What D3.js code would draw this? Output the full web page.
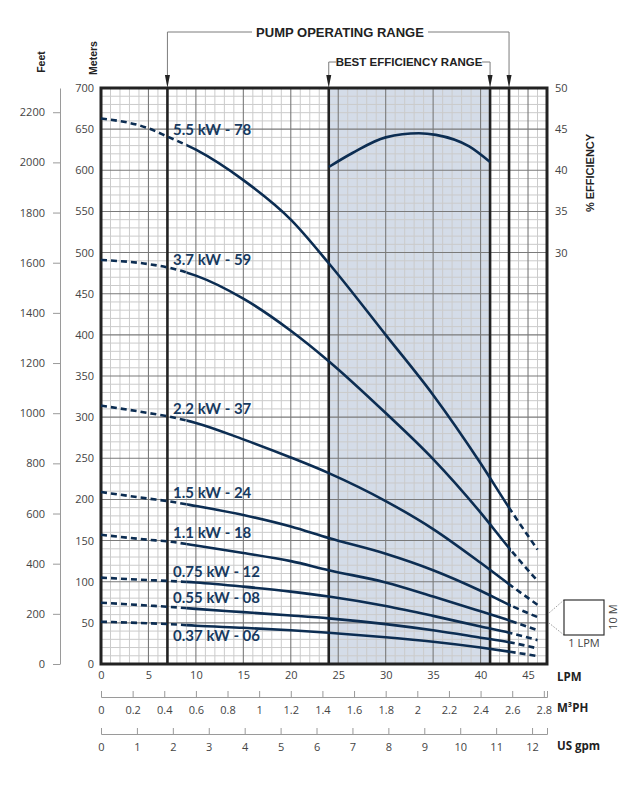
<!DOCTYPE html>
<html lang="en">
<head>
<meta charset="UTF-8">
<title>Pump performance curves</title>
<style>
    body{
        margin:0;
        background:#fff;
    }
    svg text{font-family:"Open Sans",sans-serif;}
</style>
<script src="https://cdn.jsdelivr.net/npm/d3@7/dist/d3.min.js"></script>
</head>
<body>
<div id="container"></div>
<script>
    // flow points (LPM) where head was read for every curve
    var lpm = [0, 5, 7, 10, 15, 20, 24, 30, 35, 40, 43, 46];
    var kw55 = [663, 651, 641, 625, 588, 540, 487, 400, 327, 244, 190, 139];
    var kw37 = [491, 486, 482, 472, 444, 405, 368, 305, 249, 184, 141, 101];
    var kw22 = [314, 305, 301, 293, 273, 251, 232, 198, 164, 123, 97, 72];
    var kw15 = [209, 201, 198, 192, 181, 167, 153, 134, 114, 89, 72, 57];
    var kw11 = [157, 151, 149, 144, 135, 125, 114, 99, 82, 64, 53, 41];
    var kw075 = [105, 102, 101, 99, 94, 88, 82, 70.5, 58.5, 45.5, 38, 29];
    var kw055 = [74.5, 71, 69.6, 67, 63, 59, 55.5, 48.5, 41, 32, 26.5, 19];
    var kw037 = [51.4, 49.5, 48.6, 46.5, 44, 41, 38, 32.5, 27, 20, 15, 9.7];
    var curveNames = ['5.5 kW - 78', '3.7 kW - 59', '2.2 kW - 37', '1.5 kW - 24',
        '1.1 kW - 18', '0.75 kW - 12', '0.55 kW - 08', '0.37 kW - 06'];

    var effLpm = [24, 26.5, 30, 33.5, 35.3, 38.8, 41];
    var effValues = [40.4, 42.1, 44.0, 44.5, 44.3, 42.9, 41.0];

    var operatingRange = [7, 43];
    var bestRange = [24, 41];

    var meterTicks = [0, 50, 100, 150, 200, 250, 300, 350, 400, 450, 500, 550, 600, 650, 700];
    var feetTicks = [0, 200, 400, 600, 800, 1000, 1200, 1400, 1600, 1800, 2000, 2200];
    var effTicks = [30, 35, 40, 45, 50];
    var lpmTicks = [0, 5, 10, 15, 20, 25, 30, 35, 40, 45];
    var m3phTicks = [0, 0.2, 0.4, 0.6, 0.8, 1, 1.2, 1.4, 1.6, 1.8, 2, 2.2, 2.4, 2.6, 2.8];
    var gpmTicks = [0, 1, 2, 3, 4, 5, 6, 7, 8, 9, 10, 11, 12];

    var series = [kw55, kw37, kw22, kw15, kw11, kw075, kw055, kw037];

    var w = 643, h = 785,
        pLeft = 101, pRight = 547, pTop = 88, pBottom = 664,
        maxLpm = 47, maxM = 700,
        navy = '#0c2d52', axisGrey = '#9a9a9a', tickText = '#444';

    var x = d3.scaleLinear().domain([0, maxLpm]).range([pLeft, pRight]),
        y = d3.scaleLinear().domain([0, maxM]).range([pBottom, pTop]),
        yFeet = d3.scaleLinear().domain([0, maxM / 0.3048]).range([pBottom, pTop]),
        yEff = d3.scaleLinear().domain([30, 50]).range([y(500), y(700)]),
        xM3 = d3.scaleLinear().domain([0, maxLpm * 0.06]).range([pLeft, pRight]),
        xGpm = d3.scaleLinear().domain([0, maxLpm / 3.78541]).range([pLeft, pRight]);

    var svg = d3.select('#container').append('svg').attr('width', w).attr('height', h);
    svg.append('rect').attr('width', w).attr('height', h).attr('fill', '#fff');

    // clip paths: dashed outside the rated range, solid inside
    var defs = svg.append('defs');
    defs.append('clipPath').attr('id', 'solidClip').append('rect')
        .attr('x', x(9)).attr('y', 0).attr('width', x(43.2) - x(9)).attr('height', h);
    var dc = defs.append('clipPath').attr('id', 'dashClip');
    dc.append('rect').attr('x', 0).attr('y', 0).attr('width', x(9)).attr('height', h);
    dc.append('rect').attr('x', x(43.2)).attr('y', 0).attr('width', w - x(43.2)).attr('height', h);
    defs.append('clipPath').attr('id', 'plotClip').append('rect')
        .attr('x', pLeft).attr('y', pTop).attr('width', pRight - pLeft).attr('height', pBottom - pTop);

    // best efficiency shading
    svg.append('rect')
        .attr('x', x(bestRange[0])).attr('y', pTop)
        .attr('width', x(bestRange[1]) - x(bestRange[0])).attr('height', pBottom - pTop)
        .attr('fill', '#d4dce8');

    // grid
    var grid = svg.append('g');
    var vLines = d3.range(0, maxLpm + 1), hLines = d3.range(0, maxM + 1, 10);
    grid.selectAll('.vmin').data(vLines.filter(function (d) {return d % 5 !== 0})).enter().append('line')
        .attr('x1', function (d) {return x(d)}).attr('x2', function (d) {return x(d)})
        .attr('y1', pTop).attr('y2', pBottom)
        .attr('stroke', '#cbcbcb').attr('stroke-width', 1);
    grid.selectAll('.hmin').data(hLines.filter(function (d) {return d % 50 !== 0})).enter().append('line')
        .attr('x1', pLeft).attr('x2', pRight)
        .attr('y1', function (d) {return y(d)}).attr('y2', function (d) {return y(d)})
        .attr('stroke', '#cbcbcb').attr('stroke-width', 1);
    grid.selectAll('.vmaj').data(vLines.filter(function (d) {return d % 5 === 0})).enter().append('line')
        .attr('x1', function (d) {return x(d)}).attr('x2', function (d) {return x(d)})
        .attr('y1', pTop).attr('y2', pBottom)
        .attr('stroke', '#7a7a7a').attr('stroke-width', 1.1);
    grid.selectAll('.hmaj').data(hLines.filter(function (d) {return d % 50 === 0})).enter().append('line')
        .attr('x1', pLeft).attr('x2', pRight)
        .attr('y1', function (d) {return y(d)}).attr('y2', function (d) {return y(d)})
        .attr('stroke', '#7a7a7a').attr('stroke-width', 1.1);

    // range limit lines
    svg.selectAll('.limit').data(operatingRange.concat(bestRange)).enter().append('line')
        .attr('x1', function (d) {return x(d)}).attr('x2', function (d) {return x(d)})
        .attr('y1', pTop).attr('y2', pBottom)
        .attr('stroke', '#222').attr('stroke-width', 2.6);

    svg.append('rect').attr('x', pLeft).attr('y', pTop)
        .attr('width', pRight - pLeft).attr('height', pBottom - pTop)
        .attr('fill', 'none').attr('stroke', '#222').attr('stroke-width', 3);

    // head curves
    var line = d3.line()
        .x(function (d, i) {return x(lpm[i])})
        .y(function (d) {return y(d)})
        .curve(d3.curveMonotoneX);
    var curves = svg.append('g').attr('clip-path', 'url(#plotClip)');
    series.forEach(function (s) {
        curves.append('path').attr('d', line(s)).attr('clip-path', 'url(#solidClip)')
            .attr('fill', 'none').attr('stroke', navy).attr('stroke-width', 2.6);
        curves.append('path').attr('d', line(s)).attr('clip-path', 'url(#dashClip)')
            .attr('fill', 'none').attr('stroke', navy).attr('stroke-width', 2.6)
            .attr('stroke-dasharray', '6,4');
    });

    // efficiency curve
    var effLine = d3.line()
        .x(function (d, i) {return x(effLpm[i])})
        .y(function (d) {return yEff(d)})
        .curve(d3.curveMonotoneX);
    svg.append('path').attr('d', effLine(effValues))
        .attr('fill', 'none').attr('stroke', navy).attr('stroke-width', 2.6);

    // curve labels
    var headAt = function (s, q) {
        return y(d3.scaleLinear().domain(lpm).range(s)(q));
    };
    svg.selectAll('.cname').data(curveNames).enter().append('text')
        .attr('x', x(7.6))
        .attr('y', function (d, i) {
            return i === curveNames.length - 1 ? headAt(series[i], 7.6) + 17 : headAt(series[i], 7.6) - 4;
        })
        .attr('fill', '#173a60').attr('font-weight', 'bold').attr('font-size', '15px')
        .style('font-family', 'Lato, "Open Sans", sans-serif')
        .text(function (d) {return d});

    // axes
    function styleAxis(g, size) {
        g.selectAll('text').attr('fill', tickText).style('font-size', size || '11px')
            .style('font-family', '"Open Sans", sans-serif');
        g.selectAll('line').attr('stroke', axisGrey);
        g.selectAll('path.domain').attr('stroke', axisGrey);
    }

    var mAxis = svg.append('g').attr('transform', 'translate(' + (pLeft - 1) + ',0)')
        .call(d3.axisLeft(y).tickValues(meterTicks).tickSize(0).tickPadding(6));
    mAxis.select('.domain').remove();
    styleAxis(mAxis);

    var fAxis = svg.append('g').attr('transform', 'translate(60,0)')
        .call(d3.axisLeft(yFeet).tickValues(feetTicks).tickFormat(d3.format('d'))
            .tickSizeInner(7).tickSizeOuter(0).tickPadding(8));
    styleAxis(fAxis);

    var eAxis = svg.append('g').attr('transform', 'translate(' + (pRight + 1) + ',0)')
        .call(d3.axisRight(yEff).tickValues(effTicks).tickSize(0).tickPadding(7));
    eAxis.select('.domain').remove();
    styleAxis(eAxis);

    var lAxis = svg.append('g').attr('transform', 'translate(0,' + (pBottom + 1) + ')')
        .call(d3.axisBottom(x).tickValues(lpmTicks).tickSize(0).tickPadding(6));
    lAxis.select('.domain').remove();
    styleAxis(lAxis);

    var m3Axis = svg.append('g').attr('transform', 'translate(0,697)')
        .call(d3.axisBottom(xM3).tickValues(m3phTicks).tickSizeInner(-6).tickSizeOuter(-6).tickPadding(9)
            .tickFormat(function (d) {return d}));
    styleAxis(m3Axis);

    var gAxis = svg.append('g').attr('transform', 'translate(0,734)')
        .call(d3.axisBottom(xGpm).tickValues(gpmTicks).tickSizeInner(-6).tickSizeOuter(-6).tickPadding(9));
    styleAxis(gAxis);

    // axis titles
    var bold = function (sel) {
        return sel.attr('font-weight', 'bold').attr('fill', '#222')
            .style('font-family', '"Liberation Sans", Arial, sans-serif');
    };
    bold(svg.append('text').attr('transform', 'translate(45,62) rotate(-90)')
        .attr('text-anchor', 'middle').attr('font-size', '10.5px').text('Feet'));
    bold(svg.append('text').attr('transform', 'translate(97,58) rotate(-90)')
        .attr('text-anchor', 'middle').attr('font-size', '10.5px').text('Meters'));
    bold(svg.append('text').attr('transform', 'translate(594,173) rotate(-90)')
        .attr('text-anchor', 'middle').attr('font-size', '11px').text('% EFFICIENCY'));
    bold(svg.append('text').attr('x', 557).attr('y', 681).attr('font-size', '11.5px').text('LPM'))
        .style('font-family', '"Open Sans", sans-serif');
    bold(svg.append('text').attr('x', 557).attr('y', 712).attr('font-size', '11.5px').text('M³PH'))
        .style('font-family', '"Open Sans", sans-serif');
    bold(svg.append('text').attr('x', 557).attr('y', 750).attr('font-size', '11.5px').text('US gpm'))
        .style('font-family', '"Open Sans", sans-serif');

    // range brackets
    var bracket = svg.append('g').attr('fill', 'none').attr('stroke', '#7d7d7d').attr('stroke-width', 1);
    bracket.append('path').attr('d', 'M' + x(operatingRange[0]) + ',77V32H252');
    bracket.append('path').attr('d', 'M428,32H' + x(operatingRange[1]) + 'V77');
    bracket.append('path').attr('d', 'M' + x(bestRange[0]) + ',77V62H336');
    bracket.append('path').attr('d', 'M482,62H' + x(bestRange[1]) + 'V77');
    svg.selectAll('.arrow').data(operatingRange.concat(bestRange)).enter().append('path')
        .attr('d', function (d) {
            return 'M' + (x(d) - 2.5) + ',75L' + (x(d) + 2.5) + ',75L' + x(d) + ',88Z';
        })
        .attr('fill', '#222');
    bold(svg.append('text').attr('x', 340).attr('y', 37).attr('text-anchor', 'middle')
        .attr('font-size', '13px').text('PUMP OPERATING RANGE'));
    bold(svg.append('text').attr('x', 409).attr('y', 66).attr('text-anchor', 'middle')
        .attr('font-size', '11.5px').text('BEST EFFICIENCY RANGE'));

    // scale key box
    var key = svg.append('g');
    key.append('path').attr('d', 'M564,600L549,613M564,635L549,623')
        .attr('stroke', '#999').attr('stroke-dasharray', '1.5,1.5').attr('fill', 'none');
    key.append('rect').attr('x', 564).attr('y', 600).attr('width', 40).attr('height', 35)
        .attr('fill', '#fff').attr('stroke', '#333').attr('stroke-width', 1.2);
    key.append('text').attr('x', 584).attr('y', 647).attr('text-anchor', 'middle')
        .attr('font-size', '11px').attr('fill', tickText).text('1 LPM');
    key.append('text').attr('transform', 'translate(617,617) rotate(-90)').attr('text-anchor', 'middle')
        .attr('font-size', '11px').attr('fill', tickText).text('10 M');
</script>
</body>
</html>
